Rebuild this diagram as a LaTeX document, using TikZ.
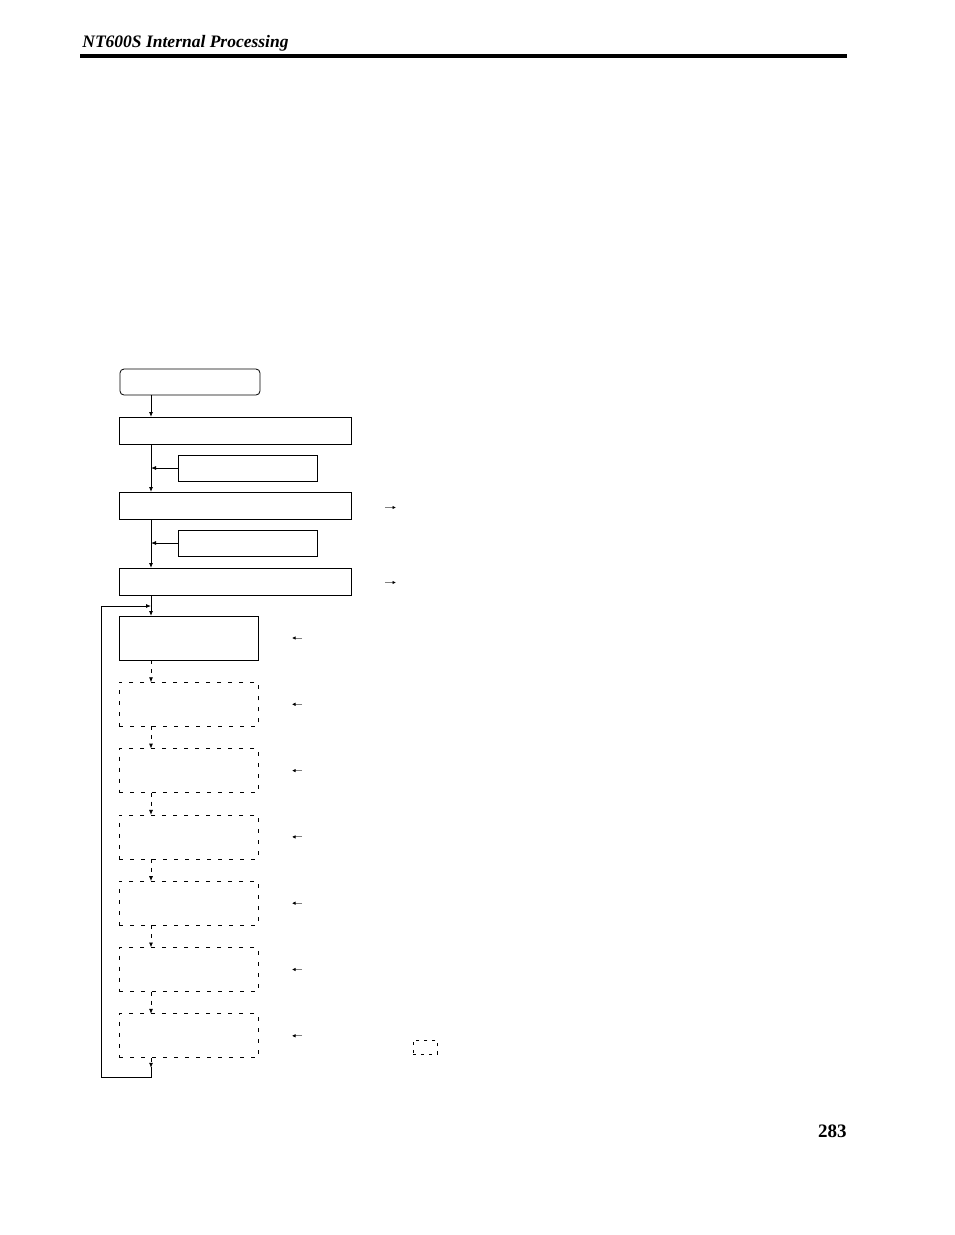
\documentclass[tikz,border=0pt]{standalone}
\usepackage{fontspec}
\setmainfont{Liberation Serif}
\usetikzlibrary{positioning,calc,arrows.meta}

\begin{document}
\begin{tikzpicture}
[ x=1pt, y=-1pt, >={Latex[length=5pt,width=4pt]}, line width=0.8pt,
  widebox/.style={ draw, inner sep=0pt, outer sep=0pt, minimum width=232pt, minimum height=27pt },
  sidebox/.style={ draw, inner sep=0pt, outer sep=0pt, minimum width=139pt, minimum height=26pt },
  startbox/.style={ draw, rounded corners=4pt, inner sep=0pt, outer sep=0pt, minimum width=140pt, minimum height=26pt },
  stagebox/.style={ draw, inner sep=0pt, outer sep=0pt, minimum width=139pt, minimum height=44pt },
  dashbox/.style={ stagebox, dash pattern=on 4pt off 7pt },
  dashline/.style={ dash pattern=on 4pt off 5pt },
  hint/.style={ gray, line width=1pt, -{Latex[length=3.5pt,width=3.5pt,black]} }
]
\useasboundingbox (0,0) rectangle (954,1235);

% header
\node[anchor=base west, inner sep=0pt, font=\fontsize{17.5}{17.5}\selectfont\bfseries\itshape] (title) at (82,47) {NT600S Internal Processing};
\draw[line width=4pt] (80,56) -- (847,56);
\node[anchor=base east, inner sep=0pt, font=\fontsize{19}{19}\selectfont\bfseries] (page) at (847,1137) {283};

% upper part
\node[startbox, anchor=north west] (start) at (120,369) {};
\node[widebox, anchor=north west] (init) at (119,417) {};
\node[sidebox, anchor=north west] (sideA) at (178,455) {};
\node[widebox, anchor=north west] (setup) at (119,492) {};
\node[sidebox, anchor=north west] (sideB) at (178,530) {};
\node[widebox, anchor=north west] (run) at (119,568) {};

\draw[->] ($(start.south west)+(31,0)$) -- ($(init.north west)+(32,0)$);
\draw[->] ($(init.south west)+(32,0)$) -- ($(setup.north west)+(32,0)$);
\draw[->] (sideA.west) -- ($(sideA.west)+(-27,0)$);
\draw[->] ($(setup.south west)+(32,0)$) -- ($(run.north west)+(32,0)$);
\draw[->] (sideB.west) -- ($(sideB.west)+(-27,0)$);

\draw[hint] ($(setup.east)+(34,2)$) -- ++(11,0);
\draw[hint] ($(run.east)+(34,1)$) -- ++(11,0);

% loop
\node[stagebox, anchor=north west] (s1) at (119,616) {};
\foreach \i [evaluate=\i as \j using int(\i+1)] in {1,...,6}{
    \node[dashbox, below=22.3pt of s\i] (s\j) {};
    \draw[->, dashline] ($(s\i.south west)+(32,0)$) -- ($(s\j.north west)+(32,0)$);
}
\draw[->] ($(run.south west)+(32,0)$) -- ($(s1.north west)+(32,0)$);
\coordinate (join) at ($(run.south west)+(32,11)$);
\coordinate (back) at ($(s7.south west)+(32,20)$);
\draw[->, dashline] ($(s7.south west)+(32,0)$) -- ($(back)+(0,-10)$);
\draw ($(back)+(0,-11)$) -- (back);
\draw[->] (back) -| ($(join)+(-50,0)$) -- (join);

\foreach \i in {1,...,7}{
    \draw[hint] ($(s\i.east)+(44,0)$) -- ++(-10,0);
}
\node[draw, inner sep=0pt, minimum width=24pt, minimum height=14pt, dash pattern=on 3pt off 5pt, anchor=north west] (key) at (413,1040) {};
\end{tikzpicture}
\end{document}
